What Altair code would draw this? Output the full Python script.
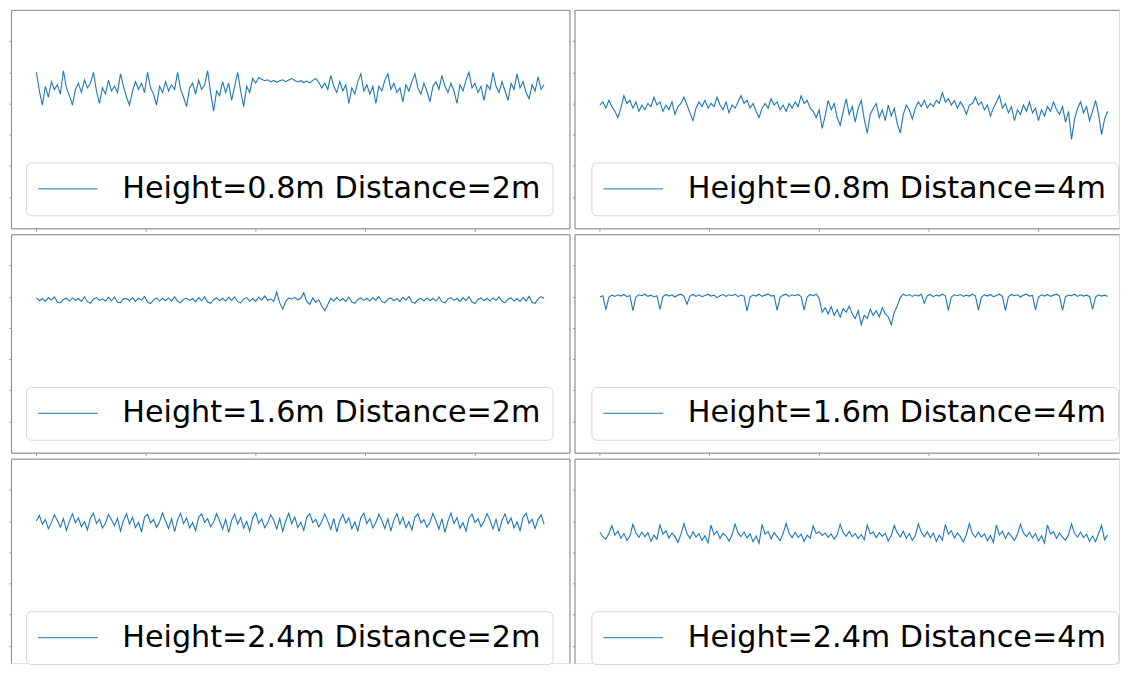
import altair as alt
import pandas as pd

# sample index span shown on each x axis
SPAN = 2318

labels = [
    "Height=0.8m Distance=2m", "Height=0.8m Distance=4m",
    "Height=1.6m Distance=2m", "Height=1.6m Distance=4m",
    "Height=2.4m Distance=2m", "Height=2.4m Distance=4m",
]

h08_d2 = [
    50.0, 44.0, 39.5, 45.5, 42.0, 47.0, 44.5, 46.0, 43.0, 50.5,
    45.0, 42.5, 39.5, 44.5, 46.5, 43.5, 47.5, 45.0, 46.5, 50.0,
    44.0, 40.0, 45.0, 43.0, 47.5, 44.0, 45.5, 43.5, 49.5, 45.5,
    42.0, 39.5, 44.0, 47.0, 44.5, 46.5, 43.5, 50.0, 45.0, 43.0,
    39.5, 45.5, 43.5, 47.0, 44.0, 46.0, 44.5, 50.0, 44.5, 42.0,
    39.0, 45.0, 46.5, 43.0, 47.5, 44.5, 46.0, 50.5, 43.5, 37.5,
    44.0, 42.5, 47.0, 43.5, 46.5, 41.0, 45.5, 50.0, 44.0, 39.0,
    45.5, 43.5, 48.0, 46.5, 48.3, 47.8, 47.3, 47.6, 46.9, 47.4,
    46.8, 47.3, 47.6, 47.0, 47.5, 48.0, 47.4, 46.9, 47.3, 46.7,
    47.2, 46.6, 47.4, 48.0, 46.8, 45.0, 46.5, 44.5, 49.0, 45.5,
    43.5, 47.0, 44.0, 46.0, 40.0, 45.0, 43.0, 47.0, 49.5, 44.0,
    46.0, 43.0, 45.5, 40.0, 45.5, 44.0, 47.5, 49.5, 44.5, 46.5,
    43.5, 45.0, 40.5, 46.0, 44.0, 47.0, 49.5, 45.0, 43.0, 46.5,
    44.0, 40.5, 45.5, 47.0, 44.5, 49.0, 45.5, 43.5, 46.5, 44.0,
    40.0, 46.0, 44.0, 47.5, 50.0, 45.0, 46.5, 43.5, 45.5, 41.0,
    46.0, 44.5, 50.0, 45.5, 43.5, 47.0, 44.0, 41.0, 46.5, 44.5,
    49.5, 45.0, 47.0, 43.5, 41.5, 46.0, 44.0, 48.5, 44.5, 46.0,
]

h08_d4 = [
    39.5, 40.5, 38.5, 41.0, 39.0, 37.5, 35.5, 38.5, 42.5, 40.0,
    41.0, 38.5, 40.5, 37.5, 39.5, 38.0, 40.0, 39.0, 42.0, 39.5,
    40.5, 37.5, 39.5, 38.0, 40.5, 36.5, 39.0, 40.0, 42.0, 39.5,
    37.0, 34.5, 38.5, 40.5, 39.0, 41.0, 38.5, 40.0, 39.0, 42.0,
    39.5, 38.0, 40.5, 37.0, 39.5, 38.5, 40.5, 42.5, 40.0, 41.0,
    38.5, 40.0, 37.5, 35.5, 38.5, 40.0, 38.5, 41.5, 39.5, 40.5,
    38.0, 39.5, 37.5, 40.0, 38.5, 40.5, 39.0, 42.5, 40.0, 41.0,
    38.5, 37.5, 35.5, 38.0, 32.0, 36.0, 41.0, 38.0, 40.0, 35.5,
    33.0, 37.5, 41.5, 36.5, 39.0, 34.0, 38.5, 41.0, 35.0, 30.5,
    36.5, 38.5, 40.0, 35.5, 38.0, 34.5, 39.5, 36.0, 38.5, 33.5,
    30.5, 36.5, 39.5, 38.0, 35.0, 38.5, 40.5, 39.0, 41.0, 38.5,
    40.0, 39.0, 41.0, 40.0, 43.5, 40.5, 41.5, 39.5, 41.0, 38.5,
    40.5, 39.0, 36.5, 39.5, 40.0, 42.0, 39.5, 40.5, 38.0, 39.5,
    36.0, 38.5, 40.5, 42.5, 38.5, 40.0, 37.0, 39.0, 34.5, 38.0,
    36.5, 39.5, 37.5, 40.5, 37.0, 38.5, 34.5, 38.0, 36.0, 39.0,
    37.5, 40.5, 38.0, 36.5, 39.0, 34.0, 37.5, 28.5, 35.0, 38.5,
    40.5, 37.0, 39.0, 34.5, 37.5, 41.0, 36.5, 30.0, 35.0, 37.5,
]

h16_d2 = [
    49.6, 48.7, 49.4, 48.5, 49.7, 48.9, 49.9, 48.3, 48.0, 49.1,
    49.5, 48.6, 49.6, 48.8, 49.4, 48.5, 50.0, 48.4, 47.9, 49.2,
    49.7, 48.8, 49.3, 48.6, 49.8, 48.7, 49.9, 48.2, 48.1, 49.3,
    49.4, 48.7, 49.7, 48.5, 49.5, 48.9, 50.1, 48.3, 47.8, 49.0,
    49.6, 48.6, 49.5, 48.7, 49.6, 48.6, 50.0, 48.5, 48.0, 49.2,
    49.5, 48.8, 49.4, 48.4, 49.7, 48.7, 50.0, 48.3, 47.9, 49.1,
    49.6, 48.7, 49.5, 48.6, 49.8, 48.8, 49.9, 48.4, 48.0, 49.3,
    49.7, 48.6, 49.4, 48.5, 49.9, 48.9, 50.2, 48.8, 49.3, 48.5,
    51.5, 48.0, 46.0, 48.5, 49.6, 49.2, 49.8, 49.0, 49.5, 51.2,
    48.5, 47.5, 49.6, 48.2, 49.0, 47.0, 45.5, 47.5, 49.5, 48.6,
    49.8, 48.7, 49.4, 48.5, 49.9, 48.3, 47.9, 49.1, 49.6, 48.8,
    49.5, 48.6, 49.7, 48.8, 50.0, 48.4, 48.0, 49.2, 49.6, 48.7,
    49.4, 48.5, 49.8, 48.9, 50.1, 48.3, 47.9, 49.0, 49.5, 48.6,
    49.6, 48.7, 49.5, 48.6, 49.9, 48.4, 48.0, 49.3, 49.7, 48.8,
    49.4, 48.5, 49.7, 48.7, 50.0, 48.3, 47.8, 49.1, 49.6, 48.7,
    49.5, 48.6, 49.6, 48.8, 49.9, 48.5, 48.0, 49.2, 49.6, 48.6,
    49.4, 48.5, 49.8, 48.6, 50.1, 48.2, 47.9, 49.3, 50.0, 49.4,
]

h16_d4 = [
    49.9, 50.3, 45.8, 49.8, 50.5, 50.1, 50.6, 50.2, 50.7, 50.0,
    50.4, 45.5, 49.9, 50.6, 50.3, 50.8, 50.1, 50.5, 49.9, 50.3,
    45.9, 50.0, 50.7, 50.2, 50.6, 49.9, 50.5, 50.8, 50.1, 47.6,
    50.2, 50.7, 50.1, 50.6, 50.0, 50.4, 50.8, 50.2, 50.5, 49.7,
    50.3, 50.7, 50.1, 50.6, 50.3, 50.8, 50.0, 50.5, 50.2, 45.4,
    49.9, 50.6, 50.2, 50.8, 50.1, 50.5, 50.9, 50.2, 50.4, 45.6,
    49.8, 50.5, 50.8, 50.1, 50.6, 50.3, 50.7, 50.0, 45.8, 49.9,
    50.7, 50.3, 50.8, 49.5, 45.0, 46.5, 44.5, 46.8, 44.0, 45.8,
    43.5, 46.2, 45.0, 47.0, 44.5, 43.0, 45.5, 41.0, 44.0, 43.0,
    46.0, 44.0, 45.5, 43.5, 46.5, 44.5, 43.5, 41.0, 45.0, 47.0,
    49.8, 50.8, 50.3, 50.7, 50.1, 50.6, 50.2, 50.8, 47.9, 50.3,
    50.7, 50.0, 50.5, 50.2, 50.8, 50.3, 45.6, 49.9, 50.6, 50.3,
    50.7, 50.1, 50.5, 50.2, 50.8, 50.3, 45.7, 49.8, 50.6, 50.2,
    50.7, 50.0, 50.4, 50.8, 50.1, 45.5, 50.0, 50.7, 50.3, 50.6,
    49.9, 50.5, 50.8, 50.2, 50.4, 45.8, 49.9, 50.6, 50.2, 50.7,
    50.1, 50.5, 50.8, 50.2, 45.6, 50.0, 50.5, 50.3, 50.8, 50.1,
    50.6, 50.2, 50.5, 50.1, 45.9, 49.9, 50.6, 50.2, 50.5, 50.1,
]

h24_d2 = [
    50.0, 51.8, 49.0, 50.5, 47.5, 49.5, 52.0, 50.2, 48.0,
    50.8, 47.0, 50.0, 52.3, 49.5, 51.0, 48.2, 49.8, 47.2,
    51.0, 52.5, 49.2, 50.6, 47.8, 49.3, 52.1, 50.4, 48.5,
    50.9, 46.8, 50.2, 52.4, 49.0, 51.2, 47.9, 49.6, 46.5,
    51.3, 52.2, 49.4, 50.5, 48.0, 49.8, 52.6, 50.0, 47.6,
    50.7, 46.6, 50.4, 52.5, 49.2, 51.0, 47.8, 49.5, 46.9,
    51.2, 52.3, 49.6, 50.8, 48.2, 49.7, 52.4, 50.1, 47.4,
    50.6, 46.3, 50.3, 52.2, 49.0, 51.1, 47.7, 49.9, 46.8,
    51.0, 52.6, 49.3, 50.7, 47.9, 49.4, 52.0, 50.3, 47.5,
    50.8, 46.7, 50.1, 52.5, 49.1, 51.3, 48.0, 49.6, 47.0,
    51.2, 52.4, 49.5, 50.6, 48.1, 49.8, 52.3, 50.0, 47.3,
    50.9, 46.5, 50.2, 52.1, 49.3, 51.0, 47.6, 49.7, 46.9,
    51.1, 52.5, 49.2, 50.8, 47.8, 49.5, 52.2, 50.2, 47.6,
    50.7, 46.8, 50.4, 52.4, 49.0, 51.2, 47.9, 49.8, 47.1,
    51.3, 52.3, 49.4, 50.5, 48.0, 49.6, 52.5, 50.1, 47.4,
    50.8, 46.4, 50.0, 52.6, 49.2, 51.1, 47.7, 49.5, 46.8,
    51.0, 52.2, 49.6, 50.7, 48.2, 49.9, 52.4, 50.3, 47.5,
    50.6, 46.6, 50.3, 52.3, 49.1, 51.0, 47.8, 49.7, 47.0,
    51.2, 52.5, 49.3, 50.6, 47.6, 50.5, 52.0, 49.0,
]

h24_d4 = [
    46.5, 45.0, 44.2, 46.0, 48.5, 45.5, 46.8, 44.5, 46.0,
    43.8, 45.2, 49.0, 46.2, 44.8, 46.5, 45.0, 46.3, 43.5,
    45.5, 44.2, 48.8, 45.8, 46.9, 44.6, 46.2, 45.0, 43.2,
    45.8, 49.2, 46.0, 44.5, 46.6, 44.9, 46.0, 43.8, 45.3,
    43.0, 48.7, 45.6, 46.8, 44.4, 46.1, 45.2, 43.6, 45.6,
    49.0, 46.2, 45.0, 46.5, 44.6, 45.9, 43.4, 45.2, 42.9,
    48.9, 45.8, 46.7, 44.3, 46.3, 45.0, 43.7, 46.0, 49.3,
    46.1, 44.7, 46.4, 44.8, 45.8, 43.5, 45.5, 44.5, 48.5,
    46.0, 46.6, 45.4, 46.2, 44.8, 45.9, 44.2, 45.6, 49.0,
    46.3, 45.1, 46.7, 45.0, 46.0, 44.4, 45.7, 44.0, 48.8,
    45.9, 46.5, 44.7, 46.3, 45.1, 46.1, 43.6, 45.4, 48.6,
    46.2, 44.9, 46.8, 44.5, 46.0, 43.8, 45.3, 49.1, 46.4,
    45.0, 46.6, 44.7, 46.1, 43.5, 45.5, 43.9, 48.9, 45.8,
    46.9, 44.6, 46.2, 45.0, 43.3, 45.7, 49.2, 46.0, 44.8,
    46.5, 44.9, 45.9, 43.7, 45.4, 43.2, 48.7, 45.6, 46.7,
    44.4, 46.3, 45.1, 43.8, 45.8, 49.0, 46.2, 45.0, 46.4,
    44.6, 46.0, 43.6, 45.3, 43.0, 48.8, 45.9, 46.6, 44.5,
    46.2, 44.8, 43.9, 45.6, 49.1, 46.1, 44.9, 46.5, 44.7,
    45.8, 43.5, 45.2, 43.4, 46.0, 48.6, 44.0, 45.5,
]

series = [h08_d2, h08_d4, h16_d2, h16_d4, h24_d2, h24_d4]

x_ticks = [0, 500, 1000, 1500, 2000]
y_ticks = [10, 20, 30, 40, 50, 60]
LINE_COLOR = "#1f77b4"
BORDER = "#8c8c8c"
TICK = "#9a9a9a"

FULL_W, FULL_H = 560, 219      # full matplotlib axes box
RIGHT_W, LAST_H = 546, 205     # right column / last row are cut by the picture edge
Y_TOP = 70


def panel(label, vals, col, row):
    n = len(vals)
    df = pd.DataFrame({
        "t": [i * SPAN / (n - 1) for i in range(n)],
        "v": vals,
        "label": [label] * n,
    })
    w = FULL_W if col == 0 else RIGHT_W
    h = FULL_H if row < 2 else LAST_H
    x0 = -0.05 * SPAN
    x_dom = [x0, x0 + (w / FULL_W) * 1.1 * SPAN]
    y_dom = [Y_TOP - (h / FULL_H) * Y_TOP, Y_TOP]
    xs = alt.Scale(domain=x_dom, nice=False, zero=False)
    ys = alt.Scale(domain=y_dom, nice=False, zero=False)

    last_row = row == 2
    bottom_axis = alt.Axis(orient="bottom", values=x_ticks, labels=False, title=None,
                           grid=False, ticks=not last_row, tickSize=3, tickColor=TICK,
                           domain=not last_row, domainColor=BORDER, domainWidth=1)
    left_axis = alt.Axis(orient="left", values=y_ticks, labels=False, title=None,
                         grid=False, ticks=True, tickSize=2, tickColor=TICK,
                         domain=True, domainColor=BORDER, domainWidth=1)
    top_axis = alt.Axis(orient="top", values=x_ticks, labels=False, title=None,
                        grid=False, ticks=False, domain=True, domainColor=BORDER,
                        domainWidth=1)
    right_axis = alt.Axis(orient="right", values=y_ticks, labels=False, title=None,
                          grid=False, ticks=False, domain=True, domainColor=BORDER,
                          domainWidth=1)

    main = alt.Chart(df).mark_line(strokeWidth=1.1, color=LINE_COLOR).encode(
        x=alt.X("t:Q", scale=xs, axis=bottom_axis),
        y=alt.Y("v:Q", scale=ys, axis=left_axis),
        color=alt.Color("label:N",
                        scale=alt.Scale(domain=[label], range=[LINE_COLOR]),
                        legend=alt.Legend(
                            orient="none", legendX=15 if col == 0 else 17, legendY=153,
                            title=None,
                            symbolType="M-2,0L2,0", symbolSize=900, symbolStrokeWidth=1,
                            symbolStrokeColor=LINE_COLOR,
                            symbolOffset=15.5, labelOffset=39,
                            labelFontSize=30.3, labelFont="DejaVu Sans",
                            labelColor="#000000", labelLimit=1000,
                            fillColor="#ffffff", strokeColor="#d5d5d5", cornerRadius=5,
                            padding=11)),
    )
    frame_y = alt.Y("v:Q", scale=ys, axis=right_axis if col == 0 else None)
    frame = alt.Chart(df).mark_line(opacity=0).encode(
        x=alt.X("t:Q", scale=xs, axis=top_axis),
        y=frame_y,
    )
    return (
        alt.layer(main, frame)
        .resolve_axis(x="independent", y="independent")
        .properties(width=w, height=h)
    )


panels = [panel(labels[k], series[k], k % 2, k // 2) for k in range(6)]

chart = (
    alt.concat(*panels, columns=2, spacing={"row": 6, "column": 5}, bounds="flush")
    .resolve_scale(color="independent")
    .resolve_legend(color="independent")
    .properties(padding={"left": 0, "top": 0, "right": 0, "bottom": 0})
    .configure_view(stroke=None)
    .configure(font="DejaVu Sans")
)

chart.save("out.html", embed_options={"renderer": "svg", "actions": False})
